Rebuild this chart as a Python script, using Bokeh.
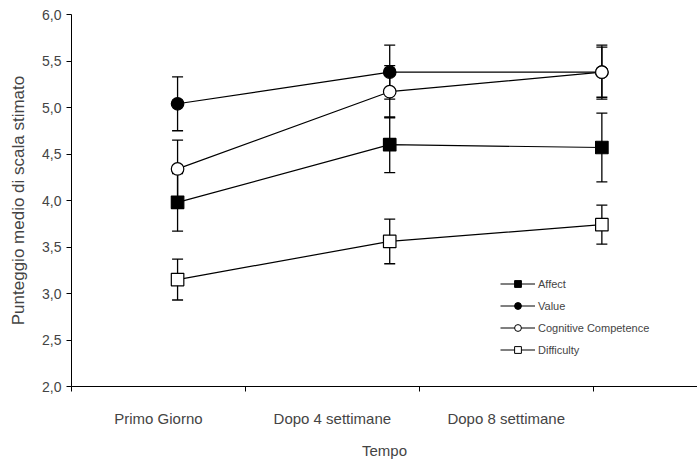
from bokeh.plotting import figure
from bokeh.models import (Range1d, FixedTicker, CustomJSTickFormatter, ColumnDataSource,
                          Whisker, TeeHead, Legend, LegendItem)
from bokeh.embed import file_html
from bokeh.resources import INLINE

# ---- data ----
categories = ["Primo Giorno", "Dopo 4 settimane", "Dopo 8 settimane"]
cat_pos = [0.5, 1.5, 2.5]
x_pts = [0.61, 1.83, 3.05]

affect = [3.98, 4.60, 4.57]
affect_err = [0.31, 0.30, 0.37]
value_ = [5.04, 5.38, 5.38]
value_err = [0.29, 0.29, 0.29]
cognitive = [4.34, 5.17, 5.38]
cognitive_err = [0.31, 0.28, 0.27]
difficulty = [3.15, 3.56, 3.74]
difficulty_err = [0.22, 0.24, 0.21]

y_ticks = [2.0, 2.5, 3.0, 3.5, 4.0, 4.5, 5.0, 5.5, 6.0]

FONT = "Liberation Sans"

p = figure(width=697, height=461, output_backend="svg", toolbar_location=None,
           x_range=Range1d(0, 3.6), y_range=Range1d(2.0, 6.0),
           min_border_left=71, min_border_right=0, min_border_top=14, min_border_bottom=72)
p.outline_line_color = None
p.grid.visible = False

# y axis
p.yaxis.ticker = FixedTicker(ticks=y_ticks, minor_ticks=[])
p.yaxis.formatter = CustomJSTickFormatter(code="return tick.toFixed(1).replace('.', ',');")
p.yaxis.major_tick_in = 0
p.yaxis.major_tick_out = 5
p.yaxis.minor_tick_out = 0
p.yaxis.major_label_standoff = 5
p.yaxis.major_label_text_font = FONT
p.yaxis.major_label_text_font_size = "14px"
p.yaxis.axis_label = "Punteggio medio di scala stimato"
p.yaxis.axis_label_text_font = FONT
p.yaxis.axis_label_text_font_size = "17px"
p.yaxis.axis_label_text_font_style = "normal"
p.yaxis.axis_label_standoff = 11

# x axis
p.xaxis.ticker = FixedTicker(ticks=cat_pos, minor_ticks=[0, 1, 2, 3])
p.xaxis.major_label_overrides = {c: l for c, l in zip(cat_pos, categories)}
p.xaxis.major_tick_in = 0
p.xaxis.major_tick_out = 0
p.xaxis.minor_tick_in = 0
p.xaxis.minor_tick_out = 5
p.xaxis.major_label_standoff = 18
p.xaxis.major_label_text_font = FONT
p.xaxis.major_label_text_font_size = "15px"
p.xaxis.axis_label = "Tempo"
p.xaxis.axis_label_text_font = FONT
p.xaxis.axis_label_text_font_size = "15px"
p.xaxis.axis_label_text_font_style = "normal"
p.xaxis.axis_label_standoff = 12

series = [
    ("Affect", affect, affect_err, "square", "black"),
    ("Value", value_, value_err, "circle", "black"),
    ("Cognitive Competence", cognitive, cognitive_err, "circle", "white"),
    ("Difficulty", difficulty, difficulty_err, "square", "white"),
]

for name, ys, errs, marker, fill in series:
    src = ColumnDataSource(dict(x=x_pts, y=ys,
                                upper=[a + b for a, b in zip(ys, errs)],
                                lower=[a - b for a, b in zip(ys, errs)]))
    w = Whisker(source=src, base="x", upper="upper", lower="lower",
                line_color="black", line_width=1.3,
                upper_head=TeeHead(size=11, line_color="black", line_width=1.3),
                lower_head=TeeHead(size=11, line_color="black", line_width=1.3))
    p.add_layout(w)

for name, ys, errs, marker, fill in series:
    src = ColumnDataSource(dict(x=x_pts, y=ys))
    p.line("x", "y", source=src, line_color="black", line_width=1.2)

for name, ys, errs, marker, fill in series:
    src = ColumnDataSource(dict(x=x_pts, y=ys))
    p.scatter("x", "y", source=src, marker=marker, size=12.5, fill_color=fill,
              line_color="black", line_width=1.2)

# legend with small markers (dummy renderers holding a single NaN point)
nan = float("nan")
items = []
for name, ys, errs, marker, fill in series:
    dummy = ColumnDataSource(dict(x=[nan], y=[nan]))
    lr = p.line("x", "y", source=dummy, line_color="black", line_width=1)
    sr = p.scatter("x", "y", source=dummy, marker=marker, size=7, fill_color=fill,
                   line_color="black", line_width=1)
    items.append(LegendItem(label=name, renderers=[lr, sr]))

legend = Legend(items=items, location=(429, 28), padding=0, margin=0,
                glyph_width=35, glyph_height=17, label_height=17, spacing=5,
                label_standoff=3, label_text_font=FONT, label_text_font_size="11px",
                border_line_alpha=0, background_fill_alpha=0)
p.add_layout(legend, "center")

open("out.html", "w").write(file_html(p, INLINE))
